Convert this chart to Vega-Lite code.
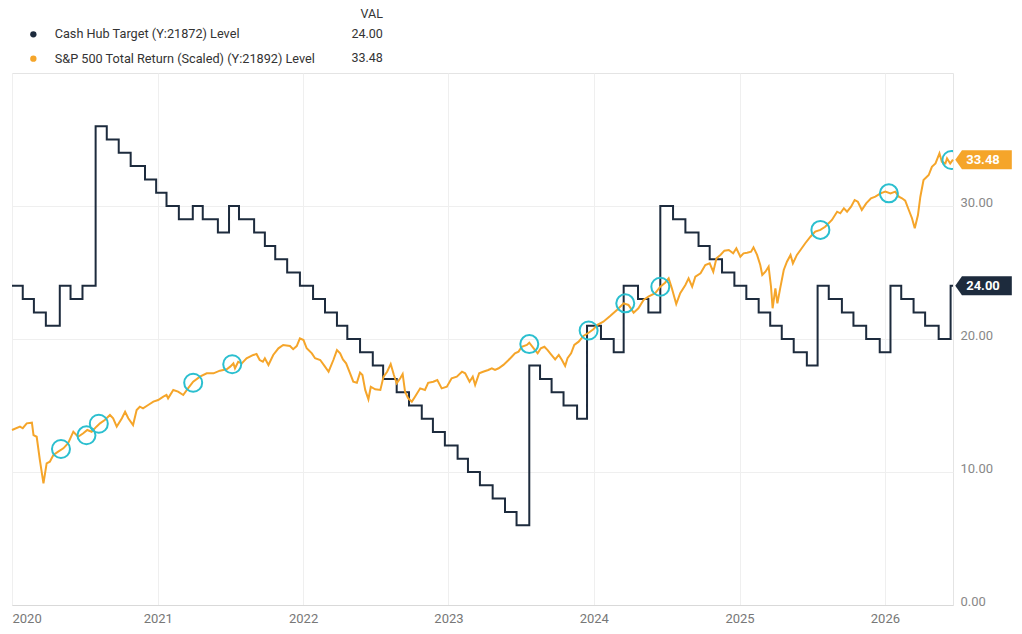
{
  "$schema": "https://vega.github.io/schema/vega-lite/v6.json",
  "width": 941,
  "height": 532,
  "autosize": {"type": "none"},
  "padding": {"left": 12, "top": 73, "right": 69, "bottom": 29},
  "background": "#ffffff",
  "config": {
    "font": "Roboto",
    "view": {"stroke": "#e4e4e4", "strokeWidth": 1}
  },
  "datasets": {
    "cash": [
      {"date": "2020-01-01", "value": 24}, {"date": "2020-01-28", "value": 23}, {"date": "2020-02-25", "value": 22},
      {"date": "2020-03-26", "value": 21}, {"date": "2020-04-30", "value": 24}, {"date": "2020-05-27", "value": 23},
      {"date": "2020-06-26", "value": 24}, {"date": "2020-07-29", "value": 36}, {"date": "2020-08-26", "value": 35},
      {"date": "2020-09-25", "value": 34}, {"date": "2020-10-25", "value": 33}, {"date": "2020-11-30", "value": 32},
      {"date": "2020-12-28", "value": 31}, {"date": "2021-01-23", "value": 30}, {"date": "2021-02-23", "value": 29},
      {"date": "2021-03-30", "value": 30}, {"date": "2021-04-24", "value": 29}, {"date": "2021-06-01", "value": 28},
      {"date": "2021-06-29", "value": 30}, {"date": "2021-07-24", "value": 29}, {"date": "2021-08-31", "value": 28},
      {"date": "2021-09-27", "value": 27}, {"date": "2021-10-23", "value": 26}, {"date": "2021-11-22", "value": 25},
      {"date": "2021-12-24", "value": 24}, {"date": "2022-01-26", "value": 23}, {"date": "2022-02-25", "value": 22},
      {"date": "2022-03-27", "value": 21}, {"date": "2022-04-22", "value": 20}, {"date": "2022-05-24", "value": 19},
      {"date": "2022-06-25", "value": 18}, {"date": "2022-07-21", "value": 17}, {"date": "2022-08-24", "value": 16},
      {"date": "2022-09-24", "value": 15}, {"date": "2022-10-26", "value": 14}, {"date": "2022-11-23", "value": 13},
      {"date": "2022-12-23", "value": 12}, {"date": "2023-01-24", "value": 11}, {"date": "2023-02-19", "value": 10},
      {"date": "2023-03-21", "value": 9}, {"date": "2023-04-22", "value": 8}, {"date": "2023-05-23", "value": 7},
      {"date": "2023-06-21", "value": 6}, {"date": "2023-07-23", "value": 18}, {"date": "2023-08-19", "value": 17},
      {"date": "2023-09-17", "value": 16}, {"date": "2023-10-17", "value": 15}, {"date": "2023-11-20", "value": 14},
      {"date": "2023-12-15", "value": 21}, {"date": "2024-01-19", "value": 20}, {"date": "2024-02-20", "value": 19},
      {"date": "2024-03-16", "value": 24}, {"date": "2024-04-21", "value": 23}, {"date": "2024-05-17", "value": 22},
      {"date": "2024-06-16", "value": 30}, {"date": "2024-07-18", "value": 29}, {"date": "2024-08-18", "value": 28},
      {"date": "2024-09-20", "value": 27}, {"date": "2024-10-18", "value": 26}, {"date": "2024-11-18", "value": 25},
      {"date": "2024-12-19", "value": 24}, {"date": "2025-01-18", "value": 23}, {"date": "2025-02-18", "value": 22},
      {"date": "2025-03-19", "value": 21}, {"date": "2025-04-17", "value": 20}, {"date": "2025-05-17", "value": 19},
      {"date": "2025-06-19", "value": 18}, {"date": "2025-07-16", "value": 24}, {"date": "2025-08-13", "value": 23},
      {"date": "2025-09-15", "value": 22}, {"date": "2025-10-14", "value": 21}, {"date": "2025-11-15", "value": 20},
      {"date": "2025-12-19", "value": 19}, {"date": "2026-01-15", "value": 24}, {"date": "2026-02-11", "value": 23},
      {"date": "2026-03-14", "value": 22}, {"date": "2026-04-12", "value": 21}, {"date": "2026-05-16", "value": 20},
      {"date": "2026-06-15", "value": 24}, {"date": "2026-06-21", "value": 24}
    ],
    "spx": [
      {"date": "2020-01-01", "value": 13.16}, {"date": "2020-01-21", "value": 13.41}, {"date": "2020-01-28", "value": 13.29},
      {"date": "2020-02-07", "value": 13.66}, {"date": "2020-02-20", "value": 13.71}, {"date": "2020-02-24", "value": 12.78},
      {"date": "2020-03-03", "value": 12.65}, {"date": "2020-03-11", "value": 10.9}, {"date": "2020-03-20", "value": 9.15},
      {"date": "2020-03-28", "value": 10.65}, {"date": "2020-04-05", "value": 10.77}, {"date": "2020-04-14", "value": 11.28},
      {"date": "2020-04-26", "value": 11.53}, {"date": "2020-05-09", "value": 11.78}, {"date": "2020-05-21", "value": 12.16},
      {"date": "2020-06-03", "value": 13.03}, {"date": "2020-06-15", "value": 12.65}, {"date": "2020-06-28", "value": 12.91},
      {"date": "2020-07-08", "value": 13.16}, {"date": "2020-07-19", "value": 13.03}, {"date": "2020-07-31", "value": 13.41},
      {"date": "2020-08-09", "value": 13.66}, {"date": "2020-08-21", "value": 13.91}, {"date": "2020-09-03", "value": 14.29},
      {"date": "2020-09-11", "value": 14.04}, {"date": "2020-09-20", "value": 13.41}, {"date": "2020-10-03", "value": 14.04},
      {"date": "2020-10-11", "value": 14.53}, {"date": "2020-10-19", "value": 14.04}, {"date": "2020-10-31", "value": 13.53},
      {"date": "2020-11-09", "value": 14.66}, {"date": "2020-11-17", "value": 14.91}, {"date": "2020-11-25", "value": 14.79},
      {"date": "2020-12-08", "value": 15.04}, {"date": "2020-12-21", "value": 15.29}, {"date": "2021-01-02", "value": 15.41},
      {"date": "2021-01-15", "value": 15.66}, {"date": "2021-01-23", "value": 15.79}, {"date": "2021-01-27", "value": 15.54},
      {"date": "2021-02-09", "value": 16.17}, {"date": "2021-02-21", "value": 16.04}, {"date": "2021-03-06", "value": 15.79},
      {"date": "2021-03-18", "value": 16.29}, {"date": "2021-03-31", "value": 16.79}, {"date": "2021-04-17", "value": 17.17},
      {"date": "2021-05-04", "value": 17.42}, {"date": "2021-05-21", "value": 17.42}, {"date": "2021-06-06", "value": 17.62},
      {"date": "2021-06-23", "value": 17.72}, {"date": "2021-07-02", "value": 17.92}, {"date": "2021-07-10", "value": 18.17},
      {"date": "2021-07-14", "value": 17.8}, {"date": "2021-07-22", "value": 18.29}, {"date": "2021-07-31", "value": 18.17},
      {"date": "2021-08-12", "value": 18.55}, {"date": "2021-08-29", "value": 18.8}, {"date": "2021-09-06", "value": 18.87},
      {"date": "2021-09-14", "value": 18.42}, {"date": "2021-09-22", "value": 18.29}, {"date": "2021-09-27", "value": 18.55},
      {"date": "2021-10-06", "value": 18.05}, {"date": "2021-10-18", "value": 18.8}, {"date": "2021-10-31", "value": 19.3},
      {"date": "2021-11-12", "value": 19.55}, {"date": "2021-11-29", "value": 19.47}, {"date": "2021-12-07", "value": 19.23},
      {"date": "2021-12-16", "value": 19.47}, {"date": "2021-12-24", "value": 20.05}, {"date": "2022-01-02", "value": 19.92},
      {"date": "2022-01-10", "value": 19.3}, {"date": "2022-01-23", "value": 18.92}, {"date": "2022-01-31", "value": 18.55},
      {"date": "2022-02-13", "value": 18.42}, {"date": "2022-02-25", "value": 17.92}, {"date": "2022-03-06", "value": 17.54},
      {"date": "2022-03-18", "value": 18.42}, {"date": "2022-03-27", "value": 19.17}, {"date": "2022-04-04", "value": 18.92},
      {"date": "2022-04-11", "value": 18.47}, {"date": "2022-04-19", "value": 18.17}, {"date": "2022-04-29", "value": 17.42},
      {"date": "2022-05-07", "value": 16.79}, {"date": "2022-05-16", "value": 16.71}, {"date": "2022-05-24", "value": 17.47},
      {"date": "2022-05-30", "value": 17.29}, {"date": "2022-06-06", "value": 16.17}, {"date": "2022-06-14", "value": 15.47},
      {"date": "2022-06-20", "value": 16.41}, {"date": "2022-07-01", "value": 16.22}, {"date": "2022-07-14", "value": 16.17},
      {"date": "2022-07-22", "value": 17.17}, {"date": "2022-07-31", "value": 17.54}, {"date": "2022-08-09", "value": 18.12},
      {"date": "2022-08-17", "value": 17.29}, {"date": "2022-08-24", "value": 16.67}, {"date": "2022-09-02", "value": 17.05},
      {"date": "2022-09-08", "value": 17.37}, {"date": "2022-09-14", "value": 16.04}, {"date": "2022-09-22", "value": 15.54},
      {"date": "2022-10-01", "value": 15.29}, {"date": "2022-10-09", "value": 15.66}, {"date": "2022-10-22", "value": 16.29},
      {"date": "2022-11-03", "value": 16.17}, {"date": "2022-11-11", "value": 16.71}, {"date": "2022-11-24", "value": 16.79},
      {"date": "2022-12-04", "value": 16.92}, {"date": "2022-12-15", "value": 16.29}, {"date": "2022-12-28", "value": 16.41},
      {"date": "2023-01-09", "value": 17.05}, {"date": "2023-01-22", "value": 17.17}, {"date": "2023-02-04", "value": 17.54},
      {"date": "2023-02-12", "value": 17.42}, {"date": "2023-02-23", "value": 16.79}, {"date": "2023-03-03", "value": 17.17},
      {"date": "2023-03-09", "value": 16.54}, {"date": "2023-03-19", "value": 17.42}, {"date": "2023-03-29", "value": 17.54},
      {"date": "2023-04-11", "value": 17.67}, {"date": "2023-04-20", "value": 17.8}, {"date": "2023-04-28", "value": 17.67},
      {"date": "2023-05-07", "value": 17.8}, {"date": "2023-05-19", "value": 18.05}, {"date": "2023-06-01", "value": 18.42},
      {"date": "2023-06-09", "value": 18.67}, {"date": "2023-06-17", "value": 18.92}, {"date": "2023-06-26", "value": 19.05},
      {"date": "2023-07-04", "value": 19.42}, {"date": "2023-07-17", "value": 19.55}, {"date": "2023-07-23", "value": 19.72},
      {"date": "2023-08-03", "value": 19.3}, {"date": "2023-08-13", "value": 18.92}, {"date": "2023-08-21", "value": 19.3},
      {"date": "2023-08-30", "value": 19.42}, {"date": "2023-09-07", "value": 19.17}, {"date": "2023-09-15", "value": 18.87},
      {"date": "2023-09-26", "value": 18.47}, {"date": "2023-10-05", "value": 18.8}, {"date": "2023-10-13", "value": 18.42},
      {"date": "2023-10-21", "value": 17.97}, {"date": "2023-10-27", "value": 18.55}, {"date": "2023-11-05", "value": 18.92},
      {"date": "2023-11-13", "value": 19.55}, {"date": "2023-11-24", "value": 19.8}, {"date": "2023-12-06", "value": 20.23},
      {"date": "2023-12-19", "value": 20.47}, {"date": "2023-12-31", "value": 20.73}, {"date": "2024-01-09", "value": 21.05},
      {"date": "2024-01-25", "value": 21.3}, {"date": "2024-02-11", "value": 21.73}, {"date": "2024-02-28", "value": 22.18},
      {"date": "2024-03-16", "value": 22.68}, {"date": "2024-03-28", "value": 22.56}, {"date": "2024-04-10", "value": 21.98},
      {"date": "2024-04-22", "value": 22.31}, {"date": "2024-05-05", "value": 22.93}, {"date": "2024-05-17", "value": 23.18},
      {"date": "2024-06-03", "value": 23.44}, {"date": "2024-06-16", "value": 23.93}, {"date": "2024-06-28", "value": 24.23},
      {"date": "2024-07-07", "value": 24.56}, {"date": "2024-07-15", "value": 23.81}, {"date": "2024-07-26", "value": 22.63},
      {"date": "2024-08-05", "value": 23.44}, {"date": "2024-08-18", "value": 24.06}, {"date": "2024-08-26", "value": 24.56},
      {"date": "2024-09-04", "value": 23.93}, {"date": "2024-09-12", "value": 24.68}, {"date": "2024-09-25", "value": 24.94},
      {"date": "2024-10-07", "value": 25.56}, {"date": "2024-10-18", "value": 25.69}, {"date": "2024-10-27", "value": 25.06},
      {"date": "2024-11-04", "value": 26.07}, {"date": "2024-11-14", "value": 26.32}, {"date": "2024-11-24", "value": 26.64},
      {"date": "2024-12-05", "value": 26.69}, {"date": "2024-12-16", "value": 26.44}, {"date": "2024-12-24", "value": 26.82},
      {"date": "2025-01-03", "value": 26.19}, {"date": "2025-01-11", "value": 26.44}, {"date": "2025-01-20", "value": 26.49},
      {"date": "2025-01-30", "value": 26.56}, {"date": "2025-02-05", "value": 26.89}, {"date": "2025-02-14", "value": 26.32},
      {"date": "2025-02-22", "value": 25.56}, {"date": "2025-02-27", "value": 24.81}, {"date": "2025-03-07", "value": 25.06},
      {"date": "2025-03-15", "value": 25.44}, {"date": "2025-03-21", "value": 23.93}, {"date": "2025-03-25", "value": 22.31},
      {"date": "2025-04-01", "value": 23.81}, {"date": "2025-04-06", "value": 22.68}, {"date": "2025-04-13", "value": 23.81},
      {"date": "2025-04-22", "value": 25.19}, {"date": "2025-04-30", "value": 25.81}, {"date": "2025-05-09", "value": 26.32},
      {"date": "2025-05-15", "value": 25.69}, {"date": "2025-05-25", "value": 26.32}, {"date": "2025-06-03", "value": 26.69},
      {"date": "2025-06-15", "value": 27.2}, {"date": "2025-06-28", "value": 27.69}, {"date": "2025-07-10", "value": 28.07},
      {"date": "2025-07-23", "value": 28.2}, {"date": "2025-08-04", "value": 28.44}, {"date": "2025-08-21", "value": 28.95},
      {"date": "2025-09-03", "value": 29.57}, {"date": "2025-09-11", "value": 29.45}, {"date": "2025-09-20", "value": 29.83},
      {"date": "2025-09-28", "value": 29.57}, {"date": "2025-10-08", "value": 29.95}, {"date": "2025-10-17", "value": 30.45},
      {"date": "2025-10-25", "value": 30.32}, {"date": "2025-11-04", "value": 29.7}, {"date": "2025-11-15", "value": 30.2},
      {"date": "2025-11-27", "value": 30.58}, {"date": "2025-12-08", "value": 30.7}, {"date": "2025-12-21", "value": 30.95},
      {"date": "2026-01-02", "value": 31.08}, {"date": "2026-01-15", "value": 30.95}, {"date": "2026-01-27", "value": 31.08},
      {"date": "2026-02-05", "value": 30.7}, {"date": "2026-02-13", "value": 30.58}, {"date": "2026-02-21", "value": 30.4},
      {"date": "2026-03-02", "value": 29.7}, {"date": "2026-03-10", "value": 29.08}, {"date": "2026-03-17", "value": 28.32},
      {"date": "2026-03-25", "value": 29.32}, {"date": "2026-03-31", "value": 30.7}, {"date": "2026-04-08", "value": 31.95},
      {"date": "2026-04-21", "value": 32.33}, {"date": "2026-04-29", "value": 32.95}, {"date": "2026-05-08", "value": 33.2},
      {"date": "2026-05-18", "value": 33.96}, {"date": "2026-05-24", "value": 33.33}, {"date": "2026-06-02", "value": 33.2},
      {"date": "2026-06-06", "value": 33.58}, {"date": "2026-06-14", "value": 33.2}, {"date": "2026-06-21", "value": 33.48}
    ],
    "hits": [
      {"date": "2020-05-03", "value": 11.73}, {"date": "2020-07-06", "value": 12.76}, {"date": "2020-08-06", "value": 13.63},
      {"date": "2021-03-31", "value": 16.71}, {"date": "2021-07-07", "value": 18.1}, {"date": "2023-07-23", "value": 19.62},
      {"date": "2023-12-19", "value": 20.64}, {"date": "2024-03-20", "value": 22.68}, {"date": "2024-06-16", "value": 23.93},
      {"date": "2025-07-23", "value": 28.2}, {"date": "2026-01-11", "value": 30.95}, {"date": "2026-06-17", "value": 33.46}
    ],
    "latest": [
      {"date": "2026-06-21", "series": "Cash Hub Target (Y:21872) Level", "value": 24.0},
      {"date": "2026-06-21", "series": "S&P 500 Total Return (Scaled) (Y:21892) Level", "value": 33.48}
    ]
  },
  "encoding": {
    "x": {
      "field": "date",
      "type": "temporal",
      "scale": {
        "type": "utc",
        "domain": [
          {"year": 2020, "month": 1, "date": 1, "utc": true},
          {"year": 2026, "month": 6, "date": 21, "utc": true}
        ]
      },
      "axis": {
        "title": null,
        "values": [
          {"year": 2020, "month": 1, "date": 1, "utc": true},
          {"year": 2021, "month": 1, "date": 1, "utc": true},
          {"year": 2022, "month": 1, "date": 1, "utc": true},
          {"year": 2023, "month": 1, "date": 1, "utc": true},
          {"year": 2024, "month": 1, "date": 1, "utc": true},
          {"year": 2025, "month": 1, "date": 1, "utc": true},
          {"year": 2026, "month": 1, "date": 1, "utc": true}
        ],
        "format": "%Y",
        "labelFlush": true,
        "ticks": false,
        "domainColor": "#d9d9d9",
        "grid": true,
        "gridColor": "#efefef",
        "labelColor": "#777777",
        "labelFont": "Roboto",
        "labelFontSize": 13,
        "labelPadding": 7
      }
    },
    "y": {
      "field": "value",
      "type": "quantitative",
      "scale": {"domain": [0, 40], "nice": false},
      "axis": {
        "title": null,
        "orient": "right",
        "values": [0, 10, 20, 30],
        "format": ".2f",
        "ticks": false,
        "domain": false,
        "grid": true,
        "gridColor": "#efefef",
        "labelColor": "#888888",
        "labelFont": "Roboto",
        "labelFontSize": 13,
        "labelPadding": 7,
        "labelBaseline": "alphabetic"
      }
    }
  },
  "layer": [
    {
      "data": {"name": "cash"},
      "mark": {"type": "line", "interpolate": "step-after", "strokeWidth": 2, "color": "#1d2b3d"},
      "encoding": {}
    },
    {
      "data": {"name": "spx"},
      "mark": {"type": "line", "strokeWidth": 2, "color": "#f5a52a"},
      "encoding": {}
    },
    {
      "data": {"name": "hits"},
      "mark": {"type": "point", "shape": "circle", "size": 324, "filled": false, "color": "#2bbfcf", "strokeWidth": 2, "opacity": 1, "clip": true}
    },
    {
      "data": {"name": "latest"},
      "mark": {
        "type": "point",
        "shape": "M0.04,0L0.16,-0.17L1.05,-0.17L1.05,0.17L0.16,0.17Z",
        "size": 12544,
        "filled": true,
        "opacity": 1
      },
      "encoding": {
        "color": {
          "field": "series",
          "type": "nominal",
          "scale": {
            "domain": ["Cash Hub Target (Y:21872) Level", "S&P 500 Total Return (Scaled) (Y:21892) Level"],
            "range": ["#1d2b3d", "#f5a52a"]
          },
          "legend": {
            "orient": "none",
            "legendX": 15,
            "legendY": -45,
            "title": null,
            "padding": 0,
            "symbolType": "circle",
            "symbolSize": 40,
            "symbolOpacity": 1,
            "labelFont": "Roboto",
            "labelFontSize": 12.7,
            "labelColor": "#333333",
            "labelOffset": 15,
            "labelLimit": 400,
            "rowPadding": 10.3
          }
        },
        "strokeDash": {
          "field": "value",
          "type": "nominal",
          "scale": {"range": [[1, 0], [1, 0]]},
          "legend": {
            "orient": "none",
            "legendX": 327,
            "legendY": -65,
            "title": "VAL",
            "titleAnchor": "end",
            "titleFont": "Roboto",
            "titleFontSize": 12.5,
            "titleFontWeight": "normal",
            "titleColor": "#333333",
            "titlePadding": 7.5,
            "padding": 0,
            "labelExpr": "format(datum.value, '.2f')",
            "labelFont": "Roboto",
            "labelFontSize": 12.5,
            "labelColor": "#333333",
            "labelOffset": 0,
            "symbolSize": 0,
            "symbolOpacity": 0,
            "symbolStrokeWidth": 0,
            "rowPadding": 10.5
          }
        }
      }
    },
    {
      "data": {"name": "latest"},
      "mark": {"type": "text", "dx": 30, "align": "center", "baseline": "middle", "color": "#ffffff", "font": "Roboto", "fontSize": 13, "fontWeight": "bold"},
      "encoding": {
        "text": {"field": "value", "type": "quantitative", "format": ".2f"}
      }
    }
  ]
}
